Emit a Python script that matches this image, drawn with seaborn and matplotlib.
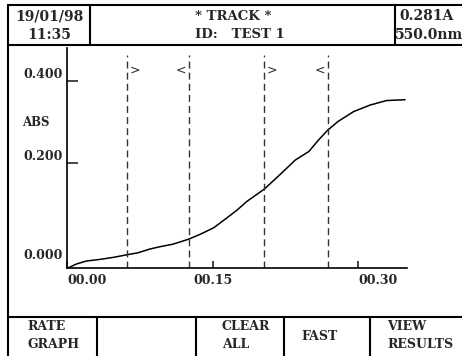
import matplotlib
matplotlib.use("Agg")
import matplotlib.pyplot as plt
from matplotlib.lines import Line2D
import pandas as pd
import seaborn as sns

# trace: time (mm.ss) vs absorbance
time = [0.000, 0.010, 0.020, 0.034, 0.048, 0.061, 0.073, 0.085, 0.096, 0.109,
        0.125, 0.137, 0.151, 0.164, 0.175, 0.185, 0.203, 0.219, 0.235, 0.249,
        0.259, 0.268, 0.279, 0.295, 0.312, 0.329, 0.348]
absorbance = [-0.057, -0.046, -0.039, -0.035, -0.030, -0.024, -0.019, -0.010, -0.004, 0.002,
              0.014, 0.026, 0.042, 0.065, 0.085, 0.106, 0.136, 0.171, 0.207, 0.228,
              0.256, 0.279, 0.301, 0.325, 0.341, 0.352, 0.354]
cursor_times = [0.062, 0.126, 0.203, 0.269]
cursor_marks = [">", "<", ">", "<"]
x_ticks = [0.0, 0.15, 0.30]
x_labels = ["00.00", "00.15", "00.30"]
y_ticks = [0.2, 0.4]
y_labels = ["0.200", "0.400"]

W, H = 462, 356


def fx(x):
    return x / W


def fy(y):
    return 1 - y / H


sns.set_style("white")
plt.rcParams["font.family"] = ["DejaVu Serif"]
plt.rcParams["font.weight"] = "bold"

fig = plt.figure(figsize=(W / 100, H / 100), dpi=100)


def hline(x0, x1, y):
    fig.add_artist(Line2D([fx(x0), fx(x1)], [fy(y), fy(y)], color="black", lw=1.5))


def vline(x, y0, y1):
    fig.add_artist(Line2D([fx(x), fx(x)], [fy(y0), fy(y1)], color="black", lw=1.5))


# screen frame, header and soft-key bar
hline(8, W, 5)
hline(8, W, 45)
hline(8, W, 317)
vline(8, 5, H)
vline(90, 5, 45)
vline(395, 5, 45)
for x in [97, 196, 284, 370]:
    vline(x, 317, H)

bold = dict(fontweight="bold", family="DejaVu Serif")
fig.text(fx(49), fy(16), "19/01/98", ha="center", va="center", fontsize=10, **bold)
fig.text(fx(49), fy(35), "11:35", ha="center", va="center", fontsize=10, **bold)
fig.text(fx(195), fy(16), "* TRACK *", ha="left", va="center", fontsize=9.5, **bold)
fig.text(fx(195), fy(35), "ID:   TEST 1", ha="left", va="center", fontsize=9.5, **bold)
fig.text(fx(426), fy(16), "0.281A", ha="center", va="center", fontsize=10, **bold)
fig.text(fx(429), fy(35), "550.0nm", ha="center", va="center", fontsize=10, **bold)

fig.text(fx(27), fy(336), "RATE\nGRAPH", ha="left", va="center", fontsize=9,
         linespacing=1.5, **bold)
fig.text(fx(222), fy(336), "CLEAR\nALL", ha="left", va="center", fontsize=9,
         linespacing=1.5, **bold)
fig.text(fx(320), fy(337), "FAST", ha="center", va="center", fontsize=9, **bold)
fig.text(fx(387), fy(336), "VIEW\nRESULTS", ha="left", va="center", fontsize=9,
         linespacing=1.5, **bold)
fig.text(fx(22), fy(122), "ABS", ha="left", va="center", fontsize=8.5, **bold)

ax = fig.add_axes([fx(67), fy(268), (407 - 67) / W, (268 - 48) / H])
df = pd.DataFrame({"time": time, "abs": absorbance})
sns.lineplot(data=df, x="time", y="abs", color="black", lw=1.1, ax=ax)

ax.set_xlim(0, 0.35)
ax.set_ylim(-0.056, 0.480)
ax.vlines(cursor_times, -0.056, 0.463, colors="#333333", lw=1.0,
          linestyles=(0, (5, 3)))
for t, m in zip(cursor_times, cursor_marks):
    off = 2 if m == ">" else -2
    ax.annotate(m, xy=(t, 0.427), xytext=(off, 0), textcoords="offset points",
                ha="left" if m == ">" else "right", va="center",
                fontsize=9, family="DejaVu Sans", fontweight="normal")

sns.despine(ax=ax)
for side in ["left", "bottom"]:
    ax.spines[side].set_color("black")
    ax.spines[side].set_linewidth(1.2)

ax.set_xticks(x_ticks, x_labels)
ax.set_yticks(y_ticks, y_labels, va="bottom")
xl = ax.get_xticklabels()
xl[0].set_ha("left")
xl[2].set_ha("left")
ax.tick_params(axis="y", direction="in", length=8, width=1.2, pad=3, labelsize=9,
               left=True)
ax.tick_params(axis="x", direction="in", length=5, width=1.2, pad=4, labelsize=9,
               bottom=True)
for lab in ax.get_xticklabels() + ax.get_yticklabels():
    lab.set_fontweight("bold")
ax.annotate("0.000", xy=(0, 0), xycoords="axes fraction", xytext=(-3, 4),
            textcoords="offset points", ha="right", va="bottom", fontsize=9, **bold)
ax.set_xlabel("")
ax.set_ylabel("")
ax.patch.set_alpha(0)

fig.savefig("out.png", dpi=100)
